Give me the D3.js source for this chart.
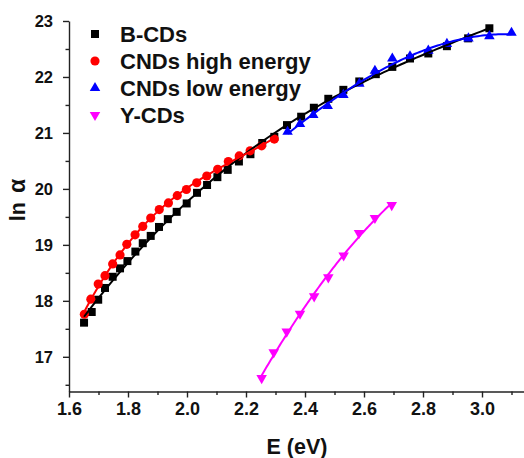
<!DOCTYPE html>
<html>
<head>
<meta charset="utf-8">
<script src="https://cdn.jsdelivr.net/npm/d3@7"></script>
<style>
  html, body { margin: 0; padding: 0; background: #fff; }
  svg { display: block; font-family: Arial, "Liberation Sans", sans-serif; font-weight: bold; }
</style>
</head>
<body>
<svg id="chart"></svg>
<script>
// B-CDs (black squares)
const bcdE = [1.651, 1.677, 1.699, 1.722, 1.748, 1.773, 1.798, 1.825, 1.850, 1.877, 1.905, 1.935, 1.965, 1.999,
              2.034, 2.068, 2.103, 2.138, 2.176, 2.215, 2.255, 2.296, 2.339,
              2.387, 2.430, 2.479, 2.530, 2.584, 2.640, 2.696, 2.756, 2.818, 2.881, 2.953, 3.025];
const bcdLn = [17.61, 17.80, 18.02, 18.23, 18.43, 18.58, 18.71, 18.88, 19.03, 19.16, 19.32, 19.46, 19.59, 19.74,
               19.93, 20.07, 20.21, 20.34, 20.49, 20.62, 20.82, 20.93, 21.14,
               21.29, 21.45, 21.61, 21.77, 21.92, 22.05, 22.18, 22.33, 22.42, 22.55, 22.69, 22.87];

// CNDs high energy (red circles)
const cndHighE = [1.652, 1.674, 1.699, 1.722, 1.748, 1.773, 1.796, 1.824, 1.850, 1.877, 1.906,
                  1.937, 1.967, 1.998, 2.033, 2.067, 2.104, 2.140, 2.177, 2.214, 2.253, 2.296];
const cndHighLn = [17.76, 18.03, 18.30, 18.45, 18.66, 18.82, 19.01, 19.18, 19.33, 19.48, 19.63,
                   19.75, 19.88, 19.99, 20.11, 20.23, 20.35, 20.49, 20.59, 20.68, 20.77, 20.89];

// CNDs low energy (blue triangles)
const cndLowE = [2.341, 2.383, 2.428, 2.477, 2.530, 2.584, 2.637, 2.696, 2.756, 2.818, 2.881, 2.954, 3.025, 3.100];
const cndLowLn = [21.02, 21.16, 21.32, 21.48, 21.68, 21.88, 22.11, 22.33, 22.37, 22.47, 22.59, 22.69, 22.73, 22.79];

// Y-CDs (magenta down triangles)
const ycdE = [2.253, 2.294, 2.338, 2.383, 2.431, 2.479, 2.531, 2.583, 2.637, 2.694];
const ycdLn = [16.62, 17.08, 17.45, 17.77, 18.08, 18.42, 18.81, 19.21, 19.48, 19.71];

const xTicks = [1.6, 1.8, 2.0, 2.2, 2.4, 2.6, 2.8, 3.0];
const xMinor = [1.7, 1.9, 2.1, 2.3, 2.5, 2.7, 2.9, 3.1];
const yTicks = [17, 18, 19, 20, 21, 22, 23];
const yMinor = [16.5, 17.5, 18.5, 19.5, 20.5, 21.5, 22.5];

const W = 524, H = 458;
const AXIS = '#222';

/**
 * Least-squares polynomial fit, returns an evaluator.
 */
function polyFit(xs, ys, deg) {
    const m = d3.mean(xs);
    const n = deg + 1;
    const A = Array.from({ length: n }, () => new Array(n + 1).fill(0));
    xs.forEach((x0, k) => {
        const x = x0 - m;
        for (let i = 0; i < n; i++) {
            for (let j = 0; j < n; j++) A[i][j] += Math.pow(x, i + j);
            A[i][n] += ys[k] * Math.pow(x, i);
        }
    });
    for (let c = 0; c < n; c++) {
        let p = c;
        for (let r = c + 1; r < n; r++) if (Math.abs(A[r][c]) > Math.abs(A[p][c])) p = r;
        [A[c], A[p]] = [A[p], A[c]];
        for (let r = 0; r < n; r++) {
            if (r === c) continue;
            const f = A[r][c] / A[c][c];
            for (let k = c; k <= n; k++) A[r][k] -= f * A[c][k];
        }
    }
    const coef = A.map((row, i) => row[n] / row[i]);
    return x => coef.reduce((s, c, i) => s + c * Math.pow(x - m, i), 0);
}

const svg = d3.select('#chart').attr('width', W).attr('height', H);

const x = d3.scaleLinear().domain([1.6, 3.2]).range([69, 541]);
const y = d3.scaleLinear().domain([16.38, 23]).range([391.5, 21]);

// axes
const gx = svg.append('g').attr('transform', `translate(0,${y.range()[0]})`);
gx.call(d3.axisBottom(x).tickValues(xTicks).tickSize(6).tickSizeOuter(0).tickPadding(5).tickFormat(d3.format('.1f')));
gx.append('g').call(d3.axisBottom(x).tickValues(xMinor).tickSize(3.5).tickFormat(''))
  .call(a => a.select('.domain').remove());
gx.selectAll('text').attr('font-size', 18).attr('font-family', 'Arial, "Liberation Sans", sans-serif').attr('font-weight', 'bold').attr('fill', '#111');

const gy = svg.append('g').attr('transform', `translate(${x.range()[0]},0)`);
gy.call(d3.axisLeft(y).tickValues(yTicks).tickSize(6).tickSizeOuter(0).tickPadding(10).tickFormat(d3.format('d')));
gy.append('g').call(d3.axisLeft(y).tickValues(yMinor).tickSize(3.5).tickFormat(''))
  .call(a => a.select('.domain').remove());
gy.selectAll('text').attr('font-size', 16.5).attr('font-family', 'Arial, "Liberation Sans", sans-serif').attr('font-weight', 'bold').attr('fill', '#111');

svg.selectAll('.domain, .tick line').attr('stroke', AXIS).attr('stroke-width', 1.4);

// axis titles
svg.append('text').attr('x', 297).attr('y', 454).attr('text-anchor', 'middle')
   .attr('font-size', 21.5).attr('fill', '#111').text('E (eV)');
const yt = svg.append('text').attr('transform', 'translate(25,200) rotate(-90)').attr('text-anchor', 'middle')
   .attr('font-size', 21.5).attr('fill', '#111');
yt.append('tspan').text('ln');
yt.append('tspan').attr('dx', 9).attr('font-size', 23).text('\u03b1');

const series = [
    { name: 'B-CDs', E: bcdE, v: bcdLn, color: '#000000', shape: d3.symbolSquare, size: 64, rot: 0, deg: 3 },
    { name: 'CNDs high energy', E: cndHighE, v: cndHighLn, color: '#ff0000', shape: d3.symbolCircle, size: 66, rot: 0, deg: 3 },
    { name: 'CNDs low energy', E: cndLowE, v: cndLowLn, color: '#0000ff', shape: d3.symbolTriangle, size: 48, rot: 0, deg: 3 },
    { name: 'Y-CDs', E: ycdE, v: ycdLn, color: '#ff00ff', shape: d3.symbolTriangle, size: 48, rot: 180, deg: 2 }
];

// points
series.forEach(s => {
    const sym = d3.symbol().type(s.shape).size(s.size);
    svg.append('g').selectAll('path').data(s.E).join('path')
        .attr('d', sym)
        .attr('fill', s.color)
        .attr('transform', (d, i) => `translate(${x(d)},${y(s.v[i])}) rotate(${s.rot})`);
});

// fit curves
series.forEach(s => {
    const f = polyFit(s.E, s.v, s.deg);
    const [lo, hi] = d3.extent(s.E);
    const pts = d3.range(0, 101).map(k => lo + (hi - lo) * k / 100);
    svg.append('path')
        .attr('d', d3.line().x(e => x(e)).y(e => y(f(e)))(pts))
        .attr('fill', 'none').attr('stroke', s.color).attr('stroke-width', 2);
});

// legend
const lg = svg.append('g');
series.forEach((s, i) => {
    const cy = 34 + i * 27;
    lg.append('path').attr('d', d3.symbol().type(s.shape).size(s.size)())
      .attr('fill', s.color).attr('transform', `translate(95,${cy}) rotate(${s.rot})`);
    lg.append('text').attr('x', 120).attr('y', cy + 7.5).attr('font-size', 22).attr('fill', '#111').text(s.name);
});
</script>
</body>
</html>
